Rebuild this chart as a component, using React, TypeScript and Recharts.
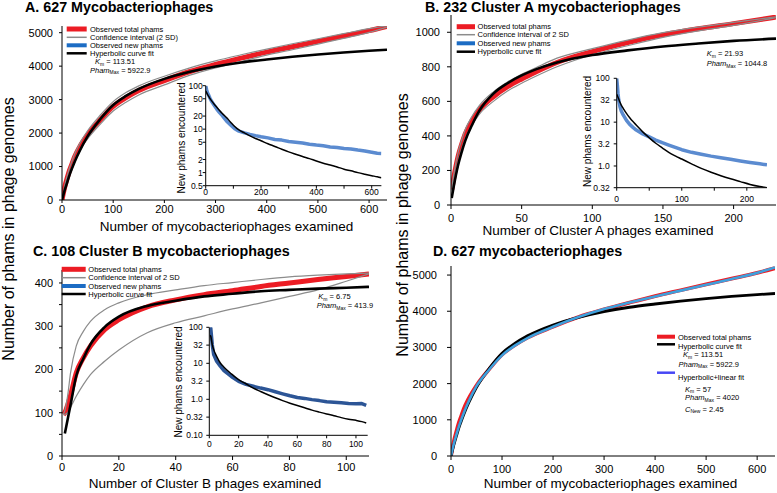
import React from 'react';
import { LineChart, Line, XAxis, YAxis } from 'recharts';

const FONT = '"Liberation Sans", Arial, Helvetica, sans-serif';

// ---- 627 mycobacteriophages (panels A and D) ----
const allX = [0, 3, 6, 10, 15, 20, 25, 35, 50, 75, 100, 125, 150, 200, 250, 300, 350, 400, 450, 500, 550, 600, 635];
const allObserved = [0, 230, 430, 650, 900, 1100, 1300, 1600, 1950, 2400, 2800, 3060, 3270, 3570, 3840, 4050, 4240, 4420, 4580, 4740, 4900, 5060, 5190];
const allHyperbolic = [0, 170, 330, 520, 760, 960, 1150, 1480, 1900, 2420, 2840, 3110, 3320, 3620, 3830, 3990, 4110, 4200, 4280, 4350, 4410, 4460, 4490];
const allUpper = [0, 260, 480, 720, 980, 1190, 1390, 1700, 2070, 2540, 2940, 3210, 3410, 3700, 3950, 4160, 4340, 4510, 4670, 4820, 4970, 5120, 5210];
const allLower = [0, 200, 380, 580, 820, 1010, 1200, 1500, 1830, 2270, 2660, 2920, 3140, 3440, 3730, 3950, 4140, 4330, 4490, 4660, 4830, 5010, 5170];
const allHypLinear = [0, 190, 360, 560, 800, 1000, 1190, 1520, 1930, 2390, 2780, 3050, 3260, 3570, 3840, 4060, 4240, 4410, 4570, 4730, 4890, 5060, 5210];

const allNewX = [0, 3, 6, 10, 15, 20, 30, 40, 50, 60, 75, 90, 105, 120, 140, 160, 180, 200, 225, 250, 275, 300, 325, 350, 375, 400, 425, 450, 475, 500, 525, 550, 575, 600, 620, 635];
const allNewObserved = [100, 82, 70, 62, 52, 45, 36, 29, 24, 20.5, 15.5, 12.5, 10.2, 9.0, 8.2, 7.6, 7.1, 6.7, 6.3, 5.8, 5.6, 5.2, 5.0, 4.8, 4.5, 4.3, 4.15, 3.9, 3.8, 3.6, 3.5, 3.3, 3.15, 2.95, 2.8, 2.75];
const allNewFit = [75, 70, 64, 58, 51, 46, 38, 32, 27, 23, 18.5, 14.5, 11.5, 9.6, 8.2, 7.0, 6.1, 5.4, 4.6, 4.0, 3.45, 3.0, 2.65, 2.35, 2.1, 1.85, 1.65, 1.5, 1.35, 1.2, 1.1, 1.0, 0.92, 0.85, 0.8, 0.76];

// ---- 232 Cluster A (panel B) ----
const clusterAX = [0.5, 2, 5, 7.5, 10, 15, 20, 30, 40, 50, 60, 75, 100, 125, 150, 175, 200, 230];
const clusterAObserved = [90, 160, 280, 350, 410, 490, 550, 627, 685, 730, 770, 825, 888, 940, 985, 1020, 1050, 1088];
const clusterAHyperbolic = [40, 110, 230, 305, 370, 465, 545, 645, 705, 750, 785, 825, 868, 895, 918, 935, 950, 963];
const clusterAUpper = [100, 180, 305, 375, 435, 515, 575, 655, 712, 757, 795, 850, 905, 955, 998, 1030, 1057, 1090];
const clusterALower = [85, 140, 255, 325, 385, 465, 525, 600, 660, 705, 745, 800, 870, 922, 970, 1008, 1040, 1085];

const clusterANewX = [0, 1, 2, 3, 5, 7, 10, 15, 20, 25, 30, 40, 50, 60, 70, 80, 90, 100, 115, 130, 145, 160, 175, 190, 205, 220, 231];
const clusterANewObserved = [100, 70, 45, 33, 22.5, 18, 14.6, 11, 8.9, 7.6, 6.6, 5.4, 4.6, 3.9, 3.4, 3.0, 2.65, 2.35, 2.05, 1.85, 1.68, 1.55, 1.42, 1.3, 1.2, 1.12, 1.06];
const clusterANewFit = [43, 40, 37, 34, 28.3, 24.5, 20.7, 15.8, 12.6, 10.3, 8.6, 6.0, 4.4, 3.3, 2.6, 2.05, 1.7, 1.44, 1.12, 0.88, 0.72, 0.6, 0.51, 0.44, 0.38, 0.34, 0.32];

// ---- 108 Cluster B (panel C) ----
const clusterBX = [0.5, 1, 2, 3, 5, 7.5, 10, 15, 20, 30, 40, 50, 60, 70, 80, 90, 100, 108];
const clusterBObserved = [96, 100, 118, 140, 192, 227, 254, 292, 315, 345, 361, 373, 382, 392, 400, 408, 415, 421];
const clusterBHyperbolic = [null, 52, 85, 118, 185, 225, 258, 298, 322, 347, 359, 369, 375, 381, 384, 387, 389, 391];
const clusterBUpper = [97, 105, 140, 192, 254, 288, 311, 338, 354, 373, 384, 394, 401, 408, 414, 418, 421, 423];
const clusterBLower = [95, 96, 100, 112, 138, 165, 188, 219, 245, 285, 308, 324, 340, 354, 369, 384, 404, 421];

const clusterBNewX = [0.5, 1, 2, 3, 5, 7.5, 10, 15, 20, 25, 30, 35, 40, 45, 50, 55, 60, 65, 70, 75, 80, 85, 90, 95, 100, 104, 107];
const clusterBNewObserved = [100, 95, 33, 17.4, 11.4, 8.3, 6.25, 4.3, 3.15, 2.6, 2.3, 2.05, 1.85, 1.62, 1.42, 1.25, 1.12, 1.06, 0.98, 0.92, 0.85, 0.83, 0.8, 0.77, 0.75, 0.76, 0.68];
const clusterBNewFit = [60, 56, 33, 24, 15.6, 10.2, 7.8, 5.1, 3.5, 2.7, 2.05, 1.65, 1.34, 1.1, 0.92, 0.78, 0.67, 0.58, 0.5, 0.44, 0.39, 0.35, 0.31, 0.28, 0.26, 0.24, 0.22];

// ---- tick labels ----
const logTicksA = [0.5, 1, 2, 5, 10, 20, 50, 100];
const logTicksB = [0.32, 1, 3.2, 10, 32, 100];
const logTicksC = [0.1, 0.32, 1, 3.2, 10, 32, 100];
const logLabels: Record<string, string> = { '0.1': '0.10', '0.32': '0.32', '1': '1.0', '3.2': '3.2', '10': '10', '32': '32', '100': '100' };

const legendA = ['Observed total phams', 'Confidence interval (2 SD)', 'Observed new phams', 'Hyperbolic curve fit'];
const legendBC = ['Observed total phams', 'Confidence interval of 2 SD', 'Observed new phams', 'Hyperbolic curve fit'];

const RED = '#ec1c24';
const GREY = '#8c8c8c';
const NEWBLUE = '#5b8bd0';

const rows = (x: number[], cols: Record<string, (number | null)[]>) =>
  x.map((v, i) => {
    const r: any = { x: v };
    Object.keys(cols).forEach((k) => (r[k] = cols[k][i]));
    return r;
  });

const dataA = rows(allX, { red: allObserved, up: allUpper, lo: allLower, fit: allHyperbolic, lin: allHypLinear });
const dataANew = rows(allNewX, { blue: allNewObserved, fit: allNewFit });
const dataB = rows(clusterAX, { red: clusterAObserved, up: clusterAUpper, lo: clusterALower, fit: clusterAHyperbolic });
const dataBNew = rows(clusterANewX, { blue: clusterANewObserved, fit: clusterANewFit });
const dataC = rows(clusterBX, { red: clusterBObserved, up: clusterBUpper, lo: clusterBLower, fit: clusterBHyperbolic });
const dataCNew = rows(clusterBNewX, { blue: clusterBNewObserved, fit: clusterBNewFit });

type Series = { key: string; color: string; width: number; type?: 'monotone' | 'linear' };

interface PanelProps {
  left: number;
  top: number;
  width: number;
  height: number;
  margin: { top: number; right: number; bottom: number; left: number };
  data: any[];
  xDomain: [number, number];
  xTicks: number[];
  yDomain: [number, number];
  yTicks: number[];
  yWidth: number;
  xHeight: number;
  xTick: [number, number];
  yTick: [number, number];
  fontSize: number;
  series: Series[];
  log?: boolean;
  xFmt?: (v: number) => string;
  yFmt?: (v: number) => string;
}

const Panel: React.FC<PanelProps> = (p) => (
  <div style={{ position: 'absolute', left: p.left, top: p.top }}>
    <LineChart width={p.width} height={p.height} data={p.data} margin={p.margin}>
      <XAxis
        type="number"
        dataKey="x"
        domain={p.xDomain}
        ticks={p.xTicks}
        allowDataOverflow
        interval={0}
        height={p.xHeight}
        stroke="#000"
        tickSize={p.xTick[0]}
        tickMargin={p.xTick[1]}
        tick={{ fontSize: p.fontSize, fill: '#000' }}
        tickFormatter={p.xFmt}
      />
      <YAxis
        type="number"
        scale={p.log ? 'log' : 'auto'}
        domain={p.yDomain}
        ticks={p.yTicks}
        allowDataOverflow
        interval={0}
        width={p.yWidth}
        stroke="#000"
        tickSize={p.yTick[0]}
        tickMargin={p.yTick[1]}
        tick={{ fontSize: p.fontSize, fill: '#000' }}
        tickFormatter={p.yFmt}
      />
      {p.series.map((s) => (
        <Line
          key={s.key}
          dataKey={s.key}
          stroke={s.color}
          strokeWidth={s.width}
          type={s.type ?? 'monotone'}
          dot={false}
          activeDot={false}
          strokeLinejoin="round"
          isAnimationActive={false}
        />
      ))}
    </LineChart>
  </div>
);

const mainSeries: Series[] = [
  { key: 'red', color: RED, width: 5 },
  { key: 'up', color: GREY, width: 1.2 },
  { key: 'lo', color: GREY, width: 1.2 },
  { key: 'fit', color: '#000', width: 2.6 },
];
const newSeries = (blue: string): Series[] => [
  { key: 'blue', color: blue, width: 3.5, type: 'linear' },
  { key: 'fit', color: '#000', width: 1.5 },
];

const logFmt = (v: number) => logLabels[String(v)] ?? String(v);

const legend = (x: number, y0: number, step: number[], len: number, gap: number, labels: string[]) => {
  const styles = [
    { c: RED, w: 5 },
    { c: GREY, w: 1.5 },
    { c: '#1c6cc4', w: 4 },
    { c: '#000', w: 2.5 },
  ];
  return labels.map((t, i) => (
    <g key={t + x}>
      <line x1={x} x2={x + len} y1={y0 + step[i]} y2={y0 + step[i]} stroke={styles[i].c} strokeWidth={styles[i].w} />
      <text x={x + len + gap} y={y0 + step[i] + 2.6} fontSize={7.5}>{t}</text>
    </g>
  ));
};

const param = (x: number, y: number, name: string, sub: string, value: string) => (
  <text x={x} y={y} fontSize={7.5}>
    <tspan fontStyle="italic">{name}</tspan>
    <tspan fontSize={5} dy={1.8}>{sub}</tspan>
    <tspan dy={-1.8}>{' = ' + value}</tspan>
  </text>
);

const App: React.FC = () => (
  <div style={{ position: 'absolute', left: 0, top: 0, width: 777, height: 493, background: '#fff', fontFamily: FONT, overflow: 'hidden' }}>
    {/* A */}
    <Panel left={0} top={0} width={390} height={240} margin={{ top: 26, right: 3, bottom: 0, left: 0 }}
      data={dataA} xDomain={[0, 635]} xTicks={[0, 100, 200, 300, 400, 500, 600]}
      yDomain={[0, 5200]} yTicks={[0, 1000, 2000, 3000, 4000, 5000]} yWidth={62} xHeight={40}
      xTick={[3, 2]} yTick={[3, 6]} fontSize={11} series={mainSeries} />
    {/* B */}
    <Panel left={390} top={0} width={387} height={245} margin={{ top: 15, right: 1, bottom: 0, left: 0 }}
      data={dataB} xDomain={[0, 230]} xTicks={[0, 50, 100, 150, 200]}
      yDomain={[0, 1100]} yTicks={[0, 200, 400, 600, 800, 1000]} yWidth={61} xHeight={40}
      xTick={[4, 5]} yTick={[4, 7]} fontSize={11} series={mainSeries} />
    {/* C */}
    <Panel left={0} top={245} width={390} height={248} margin={{ top: 25, right: 21, bottom: 0, left: 0 }}
      data={dataC} xDomain={[0, 108]} xTicks={[0, 20, 40, 60, 80, 100]}
      yDomain={[0, 430]} yTicks={[0, 50, 100, 150, 200, 250, 300, 350, 400]} yWidth={62} xHeight={37}
      xTick={[4, 3]} yTick={[3, 6]} fontSize={11} series={mainSeries}
      yFmt={(v) => (v % 100 === 0 ? String(v) : '')} />
    {/* D */}
    <Panel left={390} top={245} width={387} height={248} margin={{ top: 21, right: 2, bottom: 0, left: 0 }}
      data={dataA} xDomain={[0, 635]} xTicks={[0, 100, 200, 300, 400, 500, 600]}
      yDomain={[0, 5250]} yTicks={[0, 1000, 2000, 3000, 4000, 5000]} yWidth={61} xHeight={37}
      xTick={[4, 5]} yTick={[4, 10]} fontSize={11}
      series={[
        { key: 'red', color: RED, width: 3.8 },
        { key: 'fit', color: '#000', width: 2.8 },
        { key: 'lin', color: '#3fa0dc', width: 2.6 },
      ]} />

    {/* insets */}
    <Panel left={150} top={75} width={235} height={130.7} margin={{ top: 10.7, right: 3.6, bottom: 0, left: 0 }}
      data={dataANew} xDomain={[0, 635]} xTicks={[0, 100, 200, 300, 400, 500, 600]}
      yDomain={[0.5, 100]} yTicks={logTicksA} yWidth={55.7} xHeight={20} log
      xTick={[3, 0]} yTick={[3, 0]} fontSize={8.5} series={newSeries(NEWBLUE)}
      xFmt={(v) => (v % 200 === 0 ? String(v) : '')} />
    <Panel left={570} top={65} width={200} height={142.7} margin={{ top: 13.3, right: 3, bottom: 0, left: 0 }}
      data={dataBNew} xDomain={[0, 231]} xTicks={[0, 50, 100, 150, 200]}
      yDomain={[0.32, 100]} yTicks={logTicksB} yWidth={46.7} xHeight={20} log
      xTick={[3, 5]} yTick={[3, 4]} fontSize={8.5} series={newSeries(NEWBLUE)}
      xFmt={(v) => (v % 100 === 0 ? String(v) : '')} yFmt={logFmt} />
    <Panel left={160} top={315} width={212} height={140.3} margin={{ top: 12.3, right: 4.3, bottom: 0, left: 0 }}
      data={dataCNew} xDomain={[0, 108]} xTicks={[0, 20, 40, 60, 80, 100]}
      yDomain={[0.1, 100]} yTicks={logTicksC} yWidth={49.3} xHeight={20} log
      xTick={[3, 3]} yTick={[3, 3.5]} fontSize={8.5} series={newSeries('#2c5596')} yFmt={logFmt} />

    {/* text layer */}
    <svg width={777} height={493} style={{ position: 'absolute', left: 0, top: 0, pointerEvents: 'none' }}>
      <g fontWeight="bold" fontSize={14.3}>
        <text x={25} y={12}>A. 627 Mycobacteriophages</text>
        <text x={425} y={12}>B. 232 Cluster A mycobacteriophages</text>
        <text x={33} y={256}>C. 108 Cluster B mycobacteriophages</text>
        <text x={433} y={256}>D. 627 mycobacteriophages</text>
      </g>
      <g fontSize={16} textAnchor="middle">
        <text transform="translate(13.5,229) rotate(-90)">Number of phams in phage genomes</text>
        <text transform="translate(408,225) rotate(-90)">Number of phams in phage genomes</text>
      </g>
      <g fontSize={13.5} textAnchor="middle">
        <text x={226.5} y={231}>Number of mycobacteriophages examined</text>
        <text x={598} y={234.5}>Number of Cluster A phages examined</text>
        <text x={205} y={488}>Number of Cluster B phages examined</text>
        <text x={610.5} y={488}>Number of mycobacteriophages examined</text>
      </g>
      <g fontSize={10} textAnchor="middle">
        <text transform="translate(185,138) rotate(-90)">New phams encountered</text>
        <text transform="translate(591,131.5) rotate(-90)">New phams encountered</text>
        <text transform="translate(182,382) rotate(-90)">New phams encountered</text>
      </g>

      {legend(66.7, 29, [0, 8.3, 16.3, 24.3], 20, 3.3, legendA)}
      {param(95, 64.3, 'K', 'm', '113.51')}
      {param(90, 72.6, 'Pham', 'Max', '5922.9')}

      {legend(456.7, 26.7, [0, 8, 16.6, 25], 18.3, 2.6, legendBC)}
      {param(706.7, 55.9, 'K', 'm', '21.93')}
      {param(706.7, 66, 'Pham', 'Max', '1044.8')}

      {legend(61.7, 269.3, [0, 8.4, 16.7, 24.7], 24, 2.6, legendBC)}
      {param(318.3, 299, 'K', 'm', '6.75')}
      {param(316.7, 308, 'Pham', 'Max', '413.9')}

      <line x1={657} x2={675} y1={336.7} y2={336.7} stroke={RED} strokeWidth={4} />
      <text x={678} y={340.3} fontSize={7.5}>Observed total phams</text>
      <line x1={657} x2={675} y1={344.3} y2={344.3} stroke="#000" strokeWidth={2.5} />
      <text x={678} y={348.6} fontSize={7.5}>Hyperbolic curve fit</text>
      {param(683, 357, 'K', 'm', '113.51')}
      {param(678.5, 366.5, 'Pham', 'Max', '5922.9')}
      <line x1={657} x2={675} y1={372.7} y2={372.7} stroke="#4747f5" strokeWidth={2.5} />
      <text x={678} y={380} fontSize={7.5}>Hyperbolic+linear fit</text>
      {param(685, 391.6, 'K', 'm', '57')}
      {param(685, 400.3, 'Pham', 'Max', '4020')}
      {param(685, 411.6, 'C', 'New', '2.45')}
    </svg>
  </div>
);

export default App;
